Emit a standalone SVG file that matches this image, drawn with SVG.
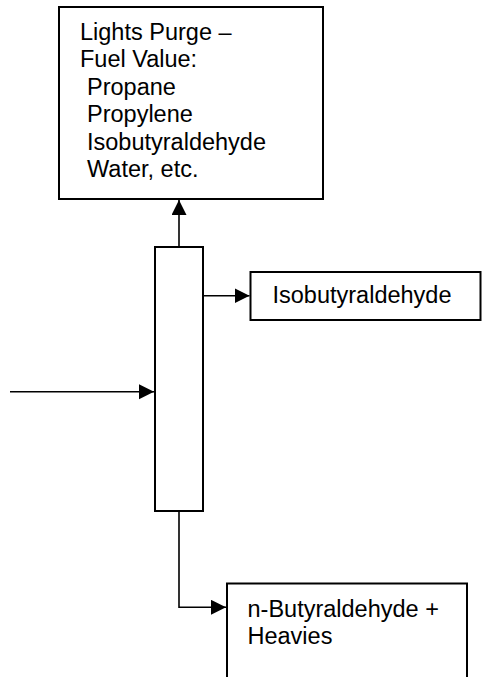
<svg xmlns="http://www.w3.org/2000/svg" width="482" height="677" viewBox="0 0 482 677">
<style>
.box{fill:#fff;stroke:#000;stroke-width:2}
.t{font-family:"Liberation Sans",Arial,sans-serif;font-size:23.5px;fill:#000}
.c{fill:none;stroke:#000;stroke-width:1.6}
</style>
<defs>
<marker id="ah" markerUnits="userSpaceOnUse" markerWidth="16" markerHeight="16" viewBox="0 0 16 16" refX="15" refY="7.5" orient="auto">
<path d="M0,0 L15,7.5 L0,15 Z" fill="#000"/>
</marker>
</defs>
<rect width="482" height="677" fill="#fff"/>
<g id="lights">
<rect class="box" x="59" y="7" width="264" height="192"/>
<text class="t" x="80" y="39.5">Lights Purge –</text>
<text class="t" x="80" y="67">Fuel Value:</text>
<text class="t" x="87" y="94.5">Propane</text>
<text class="t" x="87" y="122">Propylene</text>
<text class="t" x="87" y="149.5">Isobutyraldehyde</text>
<text class="t" x="87" y="177">Water, etc.</text>
</g>
<g id="column">
<rect class="box" x="155" y="247" width="48" height="264"/>
</g>
<g id="iso">
<rect class="box" x="250.5" y="272" width="230" height="48"/>
<text class="t" x="272.5" y="303">Isobutyraldehyde</text>
</g>
<g id="nbut">
<rect class="box" x="227" y="583.5" width="240" height="100"/>
<text class="t" x="247.5" y="616.5">n-Butyraldehyde +</text>
<text class="t" x="247.5" y="644">Heavies</text>
</g>
<g id="connectors">
<path class="c" d="M179,247 V200" marker-end="url(#ah)"/>
<path class="c" d="M203,295.7 H249.5" marker-end="url(#ah)"/>
<path class="c" d="M10,391.7 H154" marker-end="url(#ah)"/>
<path class="c" d="M179,511 V607.3 H226" marker-end="url(#ah)"/>
</g>
</svg>
